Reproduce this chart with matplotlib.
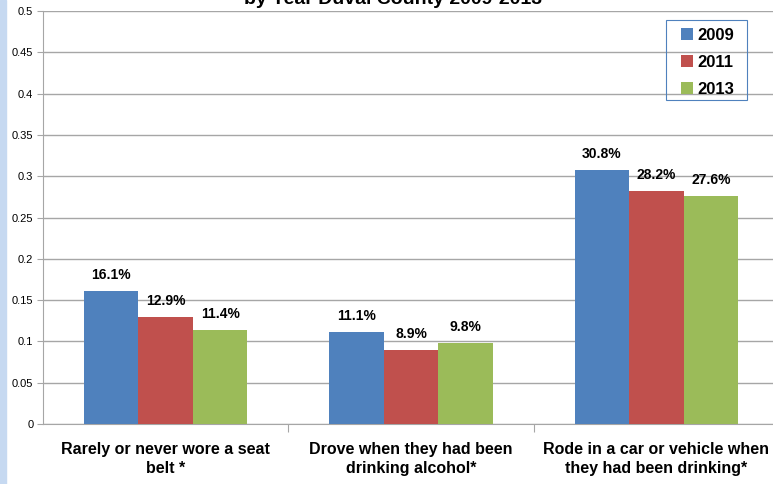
import numpy as np
import matplotlib.pyplot as plt
from matplotlib.patches import Rectangle

plt.rcParams['font.family'] = ['Liberation Sans', 'DejaVu Sans']

categories = ["Rarely or never wore a seat\nbelt *",
              "Drove when they had been\ndrinking alcohol*",
              "Rode in a car or vehicle when\nthey had been drinking*"]
years = ["2009", "2011", "2013"]
values = {
    "2009": [0.161, 0.111, 0.308],
    "2011": [0.129, 0.089, 0.282],
    "2013": [0.114, 0.098, 0.276],
}
colors = {"2009": "#4f81bd", "2011": "#c0504d", "2013": "#9bbb59"}
title = "by Year Duval County 2009-2013"

W, H = 773, 484
fig = plt.figure(figsize=(W / 100, H / 100), dpi=100)
fig.patches.append(Rectangle((0, 0), 6 / W, 1, transform=fig.transFigure,
                             color="#c6d9f1", zorder=0))

ax = fig.add_axes([43 / W, (H - 424) / H, 736 / W, 413 / H])
x = np.arange(len(categories))
width = 0.222
for i, yr in enumerate(years):
    pos = x + (i - 1) * width
    ax.bar(pos, values[yr], width, color=colors[yr], label=yr, zorder=3)
    for px, v in zip(pos, values[yr]):
        ax.text(px, v + 0.011, f"{v * 100:.1f}%", ha="center", va="bottom",
                fontsize=10, fontweight="bold")

ax.set_xlim(-0.5, 2.5)
ax.set_ylim(0, 0.5)
ax.set_yticks(np.arange(0, 0.51, 0.05))
ax.set_yticklabels(["0" if t == 0 else f"{t:g}" for t in np.arange(0, 0.51, 0.05)],
                   fontsize=8)
ax.yaxis.grid(True, color="#a6a6a6", linewidth=1, zorder=0)
ax.set_xticks([0.5, 1.5, 2.5])
ax.set_xticklabels([])
ax.set_xticks(x, minor=True)
ax.set_xticklabels(categories, minor=True, fontsize=11.5, fontweight="bold",
                   linespacing=1.3)
ax.tick_params(axis="x", which="minor", length=0, pad=13)
ax.tick_params(axis="x", which="major", length=6, color="#a6a6a6")
ax.tick_params(axis="y", length=4, color="#a6a6a6", pad=3)
for s in ["top", "right"]:
    ax.spines[s].set_visible(False)
for s in ["left", "bottom"]:
    ax.spines[s].set_color("#a6a6a6")

# legend frame drawn separately so padding can differ in x and y
fig.patches.append(Rectangle((666 / W, 1 - 100 / H), 81 / W, 80 / H,
                             transform=fig.transFigure, fill=False,
                             edgecolor="#4f81bd", linewidth=0.8, zorder=5))
ax.legend(loc="upper left", bbox_to_anchor=(681 / W, 1 - 28 / H),
          bbox_transform=fig.transFigure, frameon=False,
          handlelength=0.7, handleheight=0.7,
          prop={"weight": "bold", "size": 12}, labelspacing=0.72,
          borderpad=0, borderaxespad=0, handletextpad=0.3)

fig.text(393 / W, 1 - 4 / H, title, ha="center", va="baseline", fontsize=14,
         fontweight="bold")

fig.savefig("out.png", dpi=100)
